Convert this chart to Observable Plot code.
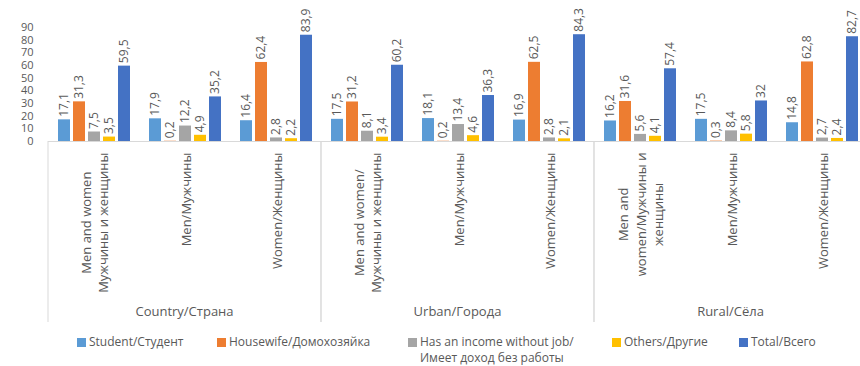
<!DOCTYPE html>
<html>
<head>
<meta charset="utf-8">
<script src="https://cdn.jsdelivr.net/npm/d3@7"></script>
<script src="https://cdn.jsdelivr.net/npm/@observablehq/plot@0.6"></script>
<style>
  html, body { margin: 0; padding: 0; background: #fff; overflow: hidden; width: 860px; height: 366px; }
  #chart svg { display: block; }
  #legend {
    width: 783px; padding-left: 77px; margin-top: -2px;
    display: flex; justify-content: flex-start; align-items: flex-start;
    font-family: "Open Sans", sans-serif; font-size: 12px; line-height: 16px; color: #595959;
  }
  .item { display: flex; align-items: flex-start; flex: none; white-space: nowrap; }
  .sw { width: 9px; height: 9px; margin-top: 4px; margin-right: 3px; flex: none; }
</style>
</head>
<body>
<div id="chart"></div>
<div id="legend"></div>
<script>
// ---- data ----
const regions = ["Country/Страна", "Urban/Города", "Rural/Сёла"];
const groupRegion = [0, 0, 0, 1, 1, 1, 2, 2, 2];
const groupLabels = [
  "Men and women\nМужчины и женщины", "Men/Мужчины", "Women/Женщины",
  "Men and women/\nМужчины и женщины", "Men/Мужчины", "Women/Женщины",
  "Men and\nwomen/Мужчины и\nженщины", "Men/Мужчины", "Women/Женщины"
];
const series = [
  "Student/Студент",
  "Housewife/Домохозяйка",
  "Has an income without job/\nИмеет доход без работы",
  "Others/Другие",
  "Total/Всего"
];
const colors = ["#5b9bd5", "#ed7d31", "#a5a5a5", "#ffc000", "#4472c4"];
const student   = [17.1, 17.9, 16.4, 17.5, 18.1, 16.9, 16.2, 17.5, 14.8];
const housewife = [31.3, 0.2, 62.4, 31.2, 0.2, 62.5, 31.6, 0.3, 62.8];
const income    = [7.5, 12.2, 2.8, 8.1, 13.4, 2.8, 5.6, 8.4, 2.7];
const others    = [3.5, 4.9, 2.2, 3.4, 4.6, 2.1, 4.1, 5.8, 2.4];
const total     = [59.5, 35.2, 83.9, 60.2, 36.3, 84.3, 57.4, 32, 82.7];
const yTicks = [0, 10, 20, 30, 40, 50, 60, 70, 80, 90];

// ---- build table ----
const values = [student, housewife, income, others, total];
const keys = groupLabels.map((_, i) => "g" + i);
const rows = [];
keys.forEach((k, i) => series.forEach((s, j) => rows.push({key: k, series: s, value: values[j][i]})));
const groups = keys.map((k, i) => ({key: k, label: groupLabels[i]}));
const fmt = v => String(v).replace(".", ",");

const FONT = "'Open Sans', sans-serif";
const ctx = document.createElement("canvas").getContext("2d");
ctx.font = "13px 'Open Sans'";
const halfLen = label => d3.max(label.split("\n"), l => ctx.measureText(l).width) / 2;

const W = 868, H = 336;
const chart = Plot.plot({
  width: W, height: H,
  marginLeft: 48, marginRight: 1, marginTop: 27, marginBottom: 195,
  style: {fontFamily: FONT, fontSize: "11px", color: "#595959", background: "#fff", maxWidth: "none"},
  fx: {domain: keys, padding: 0, axis: null},
  x: {domain: series, paddingInner: 0.23, paddingOuter: 0.6, axis: null},
  y: {domain: [0, 90], ticks: yTicks, tickSize: 0, tickPadding: 15, label: null, tickFormat: d => String(d)},
  color: {domain: series, range: colors},
  marks: [
    Plot.ruleY([0], {stroke: "#d9d9d9", strokeWidth: 1}),
    Plot.barY(rows, {fx: "key", x: "series", y: "value", fill: "series"}),
    Plot.text(rows, {fx: "key", x: "series", y: "value", text: d => fmt(d.value),
      rotate: -90, textAnchor: "start", lineAnchor: "middle", dy: -3,
      fontSize: 12, fill: "#595959"}),
    ...groups.map(g => Plot.text([g], {fx: "key", text: "label", frameAnchor: "bottom",
      rotate: -90, textAnchor: "middle", lineAnchor: "middle", lineHeight: 1.35,
      dy: 11 + halfLen(g.label), fontSize: 13, fill: "#595959"}))
  ]
});
document.getElementById("chart").appendChild(chart);

// ---- region separators and labels from Plot's fx scale ----
const fxs = chart.scale("fx");
const band = d3.scaleBand().domain(fxs.domain).range(fxs.range)
  .paddingInner(fxs.paddingInner || 0).paddingOuter(fxs.paddingOuter || 0).align(fxs.align ?? 0.5);
const y0 = chart.scale("y").range[0];
const svg = d3.select(chart);
const g = svg.append("g");
regions.forEach((r, ri) => {
  const ks = keys.filter((k, i) => groupRegion[i] === ri);
  const x0 = band(ks[0]), x1 = band(ks[ks.length - 1]) + band.bandwidth();
  [x0, x1].forEach(x => g.append("line").attr("x1", x).attr("x2", x)
    .attr("y1", y0).attr("y2", H - 14).attr("stroke", "#d9d9d9"));
  g.append("text").attr("x", (x0 + x1) / 2).attr("y", H - 20)
    .attr("text-anchor", "middle").attr("fill", "#595959")
    .style("font-family", FONT).style("font-size", "13px").text(r);
});

// ---- legend ----
const itemWidths = ["140px", "191px", "204px", "127px", "auto"];
const legend = d3.select("#legend");
series.forEach((s, i) => {
  const it = legend.append("div").attr("class", "item").style("width", itemWidths[i]);
  it.append("span").attr("class", "sw").style("background", colors[i]);
  it.append("span").html(s.replace("\n", "<br>"));
});
</script>
</body>
</html>
